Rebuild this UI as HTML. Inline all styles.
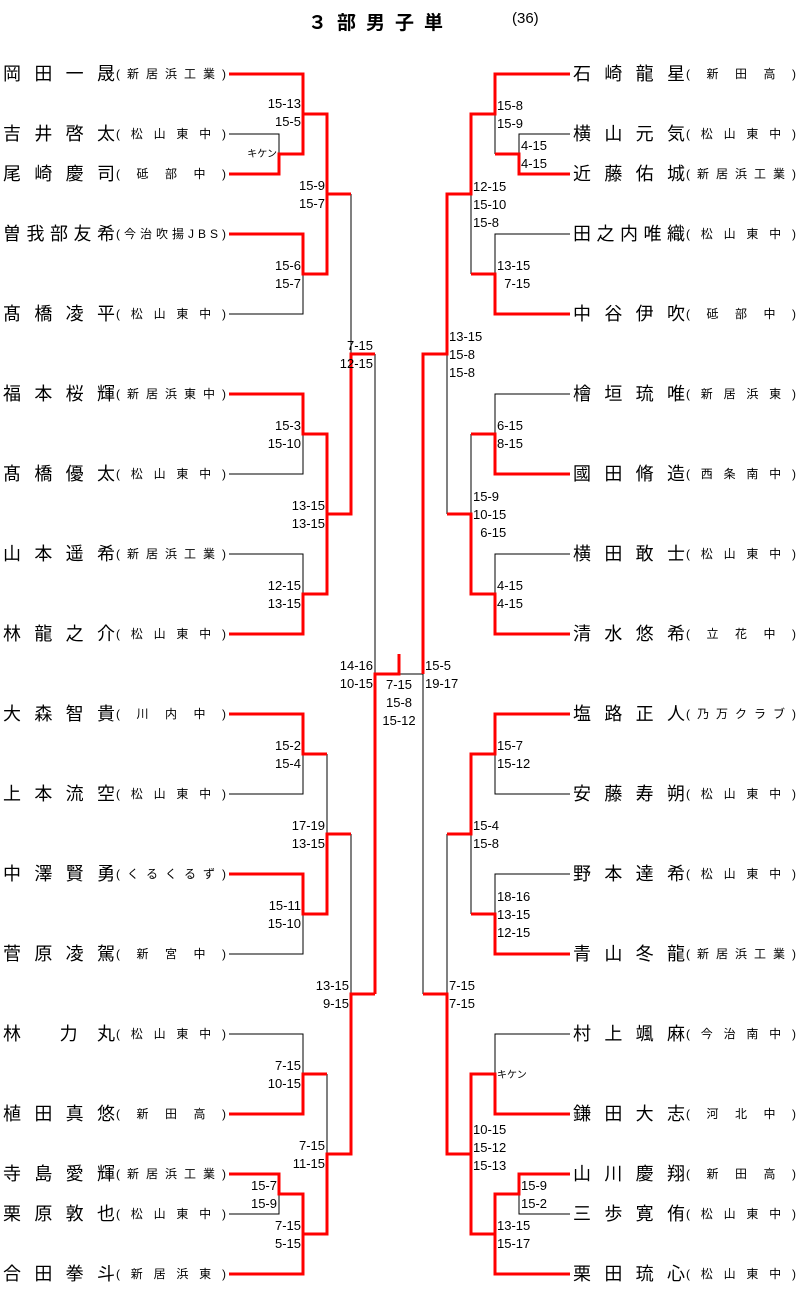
<!DOCTYPE html>
<html><head><meta charset="utf-8">
<style>
body{margin:0;background:#fff;}
#p{position:relative;width:799px;height:1295px;overflow:hidden;font-family:"Liberation Sans","Noto Sans CJK JP",sans-serif;color:#000;}
.n{position:absolute;display:flex;justify-content:space-between;width:112px;font-size:18px;line-height:20px;height:20px;}
.s{position:absolute;display:flex;justify-content:space-between;width:110px;font-size:12px;line-height:20px;height:20px;}
.t{position:absolute;font-size:13px;line-height:18px;white-space:pre;}
.r{text-align:right;width:60px;}
svg{position:absolute;left:0;top:0;}
</style></head><body><div id="p">
<svg width="799" height="1295" fill="none" shape-rendering="crispEdges">
<g stroke="#000" stroke-width="1.3">
<path d="M229 134H279V154M303 274V314H229M351 194V354M303 434V474H229M327 434V514M229 554H303V594M375 354V674M399 674H423M303 754V794H229M327 754V834M303 914V954H229M351 834V994M229 1034H303V1074M327 1074V1154M229 1214H279V1194M303 1194V1234"/>
<path d="M495 114V154M570 134H519V154M471 194V274M570 234H495V274M447 354V514M570 394H495V434M471 434V514M570 554H495V594M423 674V994M495 754V794H570M471 834V914M447 834V994M570 874H495V914M570 1034H495V1074M471 1154V1234M519 1194V1214H570"/>
</g>
<g stroke="#f00" stroke-width="2.6">
<path d="M229 74H303V114H327V274H303V234H229M327 194H351M229 174H279V154H303V114"/>
<path d="M375 354H351V514H327V434H303V394H229M327 514V594H303V634H229"/>
<path d="M375 994V674H399V654"/>
<path d="M229 714H303V754H327M351 834H327V914H303V874H229"/>
<path d="M375 994H351V1154H327V1234H303V1274H229M229 1114H303V1074H327M229 1174H279V1194H303V1234"/>
<path d="M570 74H495V114H471V194H447V354H423V674M570 174H519V154H495M570 314H495V274H471"/>
<path d="M447 514H471V594H495V634H570M570 474H495V434H471"/>
<path d="M423 994H447V1154H471V1234H495V1274H570M570 714H495V754H471V834H447M570 954H495V914H471"/>
<path d="M471 1154V1074H495V1114H570M495 1234V1194H519V1174H570"/>
</g>
</svg>

<div style="position:absolute;left:308px;top:8px;font-size:19px;font-weight:bold;letter-spacing:10px;">３部男子単</div>
<div style="position:absolute;left:512px;top:10px;font-size:15px;">(36)</div>

<div class="n" style="left:3px;top:64px"><span>岡</span><span>田</span><span>一</span><span>晟</span></div><div class="s" style="left:116px;top:64px"><span>(</span><span>新</span><span>居</span><span>浜</span><span>工</span><span>業</span><span>)</span></div>
<div class="n" style="left:3px;top:124px"><span>吉</span><span>井</span><span>啓</span><span>太</span></div><div class="s" style="left:116px;top:124px"><span>(</span><span>松</span><span>山</span><span>東</span><span>中</span><span>)</span></div>
<div class="n" style="left:3px;top:164px"><span>尾</span><span>崎</span><span>慶</span><span>司</span></div><div class="s" style="left:116px;top:164px"><span>(</span><span>砥</span><span>部</span><span>中</span><span>)</span></div>
<div class="n" style="left:3px;top:224px"><span>曽</span><span>我</span><span>部</span><span>友</span><span>希</span></div><div class="s" style="left:116px;top:224px"><span>(</span><span>今</span><span>治</span><span>吹</span><span>揚</span><span>J</span><span>B</span><span>S</span><span>)</span></div>
<div class="n" style="left:3px;top:304px"><span>髙</span><span>橋</span><span>凌</span><span>平</span></div><div class="s" style="left:116px;top:304px"><span>(</span><span>松</span><span>山</span><span>東</span><span>中</span><span>)</span></div>
<div class="n" style="left:3px;top:384px"><span>福</span><span>本</span><span>桜</span><span>輝</span></div><div class="s" style="left:116px;top:384px"><span>(</span><span>新</span><span>居</span><span>浜</span><span>東</span><span>中</span><span>)</span></div>
<div class="n" style="left:3px;top:464px"><span>髙</span><span>橋</span><span>優</span><span>太</span></div><div class="s" style="left:116px;top:464px"><span>(</span><span>松</span><span>山</span><span>東</span><span>中</span><span>)</span></div>
<div class="n" style="left:3px;top:544px"><span>山</span><span>本</span><span>遥</span><span>希</span></div><div class="s" style="left:116px;top:544px"><span>(</span><span>新</span><span>居</span><span>浜</span><span>工</span><span>業</span><span>)</span></div>
<div class="n" style="left:3px;top:624px"><span>林</span><span>龍</span><span>之</span><span>介</span></div><div class="s" style="left:116px;top:624px"><span>(</span><span>松</span><span>山</span><span>東</span><span>中</span><span>)</span></div>
<div class="n" style="left:3px;top:704px"><span>大</span><span>森</span><span>智</span><span>貴</span></div><div class="s" style="left:116px;top:704px"><span>(</span><span>川</span><span>内</span><span>中</span><span>)</span></div>
<div class="n" style="left:3px;top:784px"><span>上</span><span>本</span><span>流</span><span>空</span></div><div class="s" style="left:116px;top:784px"><span>(</span><span>松</span><span>山</span><span>東</span><span>中</span><span>)</span></div>
<div class="n" style="left:3px;top:864px"><span>中</span><span>澤</span><span>賢</span><span>勇</span></div><div class="s" style="left:116px;top:864px"><span>(</span><span>く</span><span>る</span><span>く</span><span>る</span><span>ず</span><span>)</span></div>
<div class="n" style="left:3px;top:944px"><span>菅</span><span>原</span><span>凌</span><span>駕</span></div><div class="s" style="left:116px;top:944px"><span>(</span><span>新</span><span>宮</span><span>中</span><span>)</span></div>
<div class="n" style="left:3px;top:1024px"><span>林</span><span></span><span>力</span><span>丸</span></div><div class="s" style="left:116px;top:1024px"><span>(</span><span>松</span><span>山</span><span>東</span><span>中</span><span>)</span></div>
<div class="n" style="left:3px;top:1104px"><span>植</span><span>田</span><span>真</span><span>悠</span></div><div class="s" style="left:116px;top:1104px"><span>(</span><span>新</span><span>田</span><span>高</span><span>)</span></div>
<div class="n" style="left:3px;top:1164px"><span>寺</span><span>島</span><span>愛</span><span>輝</span></div><div class="s" style="left:116px;top:1164px"><span>(</span><span>新</span><span>居</span><span>浜</span><span>工</span><span>業</span><span>)</span></div>
<div class="n" style="left:3px;top:1204px"><span>栗</span><span>原</span><span>敦</span><span>也</span></div><div class="s" style="left:116px;top:1204px"><span>(</span><span>松</span><span>山</span><span>東</span><span>中</span><span>)</span></div>
<div class="n" style="left:3px;top:1264px"><span>合</span><span>田</span><span>拳</span><span>斗</span></div><div class="s" style="left:116px;top:1264px"><span>(</span><span>新</span><span>居</span><span>浜</span><span>東</span><span>)</span></div>

<div class="n" style="left:573px;top:64px"><span>石</span><span>崎</span><span>龍</span><span>星</span></div><div class="s" style="left:686px;top:64px"><span>(</span><span>新</span><span>田</span><span>高</span><span>)</span></div>
<div class="n" style="left:573px;top:124px"><span>横</span><span>山</span><span>元</span><span>気</span></div><div class="s" style="left:686px;top:124px"><span>(</span><span>松</span><span>山</span><span>東</span><span>中</span><span>)</span></div>
<div class="n" style="left:573px;top:164px"><span>近</span><span>藤</span><span>佑</span><span>城</span></div><div class="s" style="left:686px;top:164px"><span>(</span><span>新</span><span>居</span><span>浜</span><span>工</span><span>業</span><span>)</span></div>
<div class="n" style="left:573px;top:224px"><span>田</span><span>之</span><span>内</span><span>唯</span><span>織</span></div><div class="s" style="left:686px;top:224px"><span>(</span><span>松</span><span>山</span><span>東</span><span>中</span><span>)</span></div>
<div class="n" style="left:573px;top:304px"><span>中</span><span>谷</span><span>伊</span><span>吹</span></div><div class="s" style="left:686px;top:304px"><span>(</span><span>砥</span><span>部</span><span>中</span><span>)</span></div>
<div class="n" style="left:573px;top:384px"><span>檜</span><span>垣</span><span>琉</span><span>唯</span></div><div class="s" style="left:686px;top:384px"><span>(</span><span>新</span><span>居</span><span>浜</span><span>東</span><span>)</span></div>
<div class="n" style="left:573px;top:464px"><span>國</span><span>田</span><span>脩</span><span>造</span></div><div class="s" style="left:686px;top:464px"><span>(</span><span>西</span><span>条</span><span>南</span><span>中</span><span>)</span></div>
<div class="n" style="left:573px;top:544px"><span>横</span><span>田</span><span>敢</span><span>士</span></div><div class="s" style="left:686px;top:544px"><span>(</span><span>松</span><span>山</span><span>東</span><span>中</span><span>)</span></div>
<div class="n" style="left:573px;top:624px"><span>清</span><span>水</span><span>悠</span><span>希</span></div><div class="s" style="left:686px;top:624px"><span>(</span><span>立</span><span>花</span><span>中</span><span>)</span></div>
<div class="n" style="left:573px;top:704px"><span>塩</span><span>路</span><span>正</span><span>人</span></div><div class="s" style="left:686px;top:704px"><span>(</span><span>乃</span><span>万</span><span>ク</span><span>ラ</span><span>ブ</span><span>)</span></div>
<div class="n" style="left:573px;top:784px"><span>安</span><span>藤</span><span>寿</span><span>朔</span></div><div class="s" style="left:686px;top:784px"><span>(</span><span>松</span><span>山</span><span>東</span><span>中</span><span>)</span></div>
<div class="n" style="left:573px;top:864px"><span>野</span><span>本</span><span>達</span><span>希</span></div><div class="s" style="left:686px;top:864px"><span>(</span><span>松</span><span>山</span><span>東</span><span>中</span><span>)</span></div>
<div class="n" style="left:573px;top:944px"><span>青</span><span>山</span><span>冬</span><span>龍</span></div><div class="s" style="left:686px;top:944px"><span>(</span><span>新</span><span>居</span><span>浜</span><span>工</span><span>業</span><span>)</span></div>
<div class="n" style="left:573px;top:1024px"><span>村</span><span>上</span><span>颯</span><span>麻</span></div><div class="s" style="left:686px;top:1024px"><span>(</span><span>今</span><span>治</span><span>南</span><span>中</span><span>)</span></div>
<div class="n" style="left:573px;top:1104px"><span>鎌</span><span>田</span><span>大</span><span>志</span></div><div class="s" style="left:686px;top:1104px"><span>(</span><span>河</span><span>北</span><span>中</span><span>)</span></div>
<div class="n" style="left:573px;top:1164px"><span>山</span><span>川</span><span>慶</span><span>翔</span></div><div class="s" style="left:686px;top:1164px"><span>(</span><span>新</span><span>田</span><span>高</span><span>)</span></div>
<div class="n" style="left:573px;top:1204px"><span>三</span><span>歩</span><span>寛</span><span>侑</span></div><div class="s" style="left:686px;top:1204px"><span>(</span><span>松</span><span>山</span><span>東</span><span>中</span><span>)</span></div>
<div class="n" style="left:573px;top:1264px"><span>栗</span><span>田</span><span>琉</span><span>心</span></div><div class="s" style="left:686px;top:1264px"><span>(</span><span>松</span><span>山</span><span>東</span><span>中</span><span>)</span></div>

<div class="t r" style="left:217px;top:146px;font-size:10px">キケン</div>
<div class="t r" style="left:241px;top:95px">15-13<br>15-5</div>
<div class="t r" style="left:265px;top:177px">15-9<br>15-7</div>
<div class="t r" style="left:241px;top:257px">15-6<br>15-7</div>
<div class="t r" style="left:313px;top:337px">7-15<br>12-15</div>
<div class="t r" style="left:241px;top:417px">15-3<br>15-10</div>
<div class="t r" style="left:265px;top:497px">13-15<br>13-15</div>
<div class="t r" style="left:241px;top:577px">12-15<br>13-15</div>
<div class="t r" style="left:313px;top:657px">14-16<br>10-15</div>
<div class="t" style="left:369px;top:676px;width:60px;text-align:center">7-15<br>15-8<br>15-12</div>
<div class="t r" style="left:241px;top:737px">15-2<br>15-4</div>
<div class="t r" style="left:265px;top:817px">17-19<br>13-15</div>
<div class="t r" style="left:241px;top:897px">15-11<br>15-10</div>
<div class="t r" style="left:289px;top:977px">13-15<br>9-15</div>
<div class="t r" style="left:241px;top:1057px">7-15<br>10-15</div>
<div class="t r" style="left:265px;top:1137px">7-15<br>11-15</div>
<div class="t r" style="left:217px;top:1177px">15-7<br>15-9</div>
<div class="t r" style="left:241px;top:1217px">7-15<br>5-15</div>

<div class="t" style="left:425px;top:657px">15-5<br>19-17</div>
<div class="t" style="left:497px;top:97px">15-8<br>15-9</div>
<div class="t" style="left:521px;top:137px">4-15<br>4-15</div>
<div class="t" style="left:473px;top:178px">12-15<br>15-10<br>15-8</div>
<div class="t" style="left:497px;top:257px">13-15<br>  7-15</div>
<div class="t" style="left:449px;top:328px">13-15<br>15-8<br>15-8</div>
<div class="t" style="left:497px;top:417px">6-15<br>8-15</div>
<div class="t" style="left:473px;top:488px">15-9<br>10-15<br>  6-15</div>
<div class="t" style="left:497px;top:577px">4-15<br>4-15</div>
<div class="t" style="left:497px;top:737px">15-7<br>15-12</div>
<div class="t" style="left:473px;top:817px">15-4<br>15-8</div>
<div class="t" style="left:497px;top:888px">18-16<br>13-15<br>12-15</div>
<div class="t" style="left:449px;top:977px">7-15<br>7-15</div>
<div class="t" style="left:497px;top:1067px;font-size:10px">キケン</div>
<div class="t" style="left:473px;top:1121px">10-15<br>15-12<br>15-13</div>
<div class="t" style="left:521px;top:1177px">15-9<br>15-2</div>
<div class="t" style="left:497px;top:1217px">13-15<br>15-17</div>
</div></body></html>
